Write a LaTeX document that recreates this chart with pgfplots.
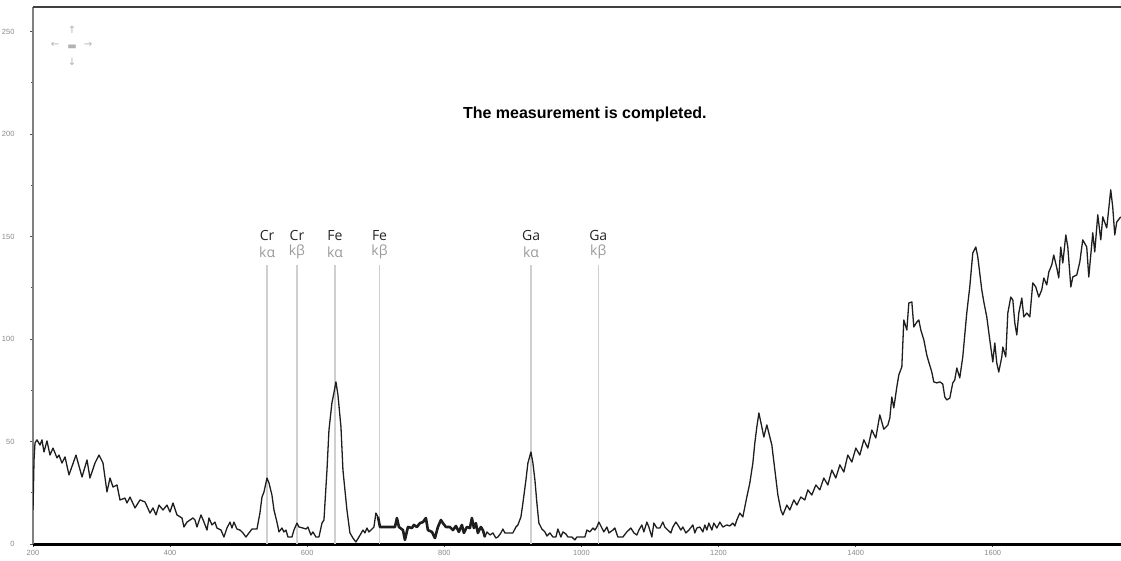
\documentclass[border=0pt]{standalone}
\usepackage{fontspec}
\setmainfont{Liberation Sans}
\newfontfamily\labfont{Open Sans}
\newfontfamily\symfont{DejaVu Sans}
\usepackage{pgfplots}
\pgfplotsset{compat=1.18}
\definecolor{curve}{HTML}{1E1E1E}
\definecolor{peakline}{HTML}{CFCFCF}
\definecolor{ticklab}{HTML}{8A8A8A}
\definecolor{ktext}{HTML}{9A9A9A}
\tikzset{
  el/.style={font=\labfont\fontsize{14}{14}\selectfont, text=black!85, inner sep=0pt},
  kl/.style={font=\labfont\fontsize{14}{14}\selectfont, text=ktext, inner sep=0pt},
  ic/.style={font=\symfont\fontsize{10}{10}\selectfont, text=gray!60, inner sep=0pt},
}
\begin{document}
\begin{tikzpicture}
\begin{axis}[
  scale only axis,
  width=1088pt, height=537pt,
  xmin=200, xmax=1787, ymin=0, ymax=262,
  axis lines=left,
  axis line style={-},
  x axis line style={line width=3pt, black},
  y axis line style={line width=1.3pt, gray},
  xtick={200,400,...,1600},
  ytick={0,50,...,250},
  minor x tick num=3,
  minor y tick num=1,
  tick align=outside,
  major tick length=3pt,
  minor tick length=2pt,
  tick style={line width=0.8pt, black!70},
  tick label style={font=\fontsize{7.5}{8}\selectfont, text=ticklab},
  yticklabel style={xshift=-12pt},
  /pgf/number format/assume math mode=true,
  /pgf/number format/1000 sep={},
  clip=true,
]
% peak marker lines
\addplot[peakline, line width=1.5pt, forget plot] coordinates {(541.5,0) (541.5,136)};
\addplot[peakline, line width=1.5pt, forget plot] coordinates {(585,0) (585,136)};
\addplot[peakline, line width=1.5pt, forget plot] coordinates {(640.5,0) (640.5,136)};
\addplot[peakline, line width=1.5pt, forget plot] coordinates {(705.5,0) (705.5,136)};
\addplot[peakline, line width=1.5pt, forget plot] coordinates {(926.5,0) (926.5,136)};
\addplot[peakline, line width=1.5pt, forget plot] coordinates {(1024.5,0) (1024.5,136)};

% spectrum
\addplot[curve, line width=1.3pt, line join=round] coordinates {
(200,16.6) (201.5,41.0) (202.9,49.3) (205.8,50.8) (210.2,48.3) (213.1,50.8) (216.0,44.9)
(220.4,50.3) (224.8,43.4) (229.2,46.8) (235.0,42.0) (237.9,43.4) (242.3,39.5) (246.7,42.5)
(252.5,33.7) (262.7,43.4) (271.5,32.7) (278.8,41.0) (283.1,32.2) (290.4,39.5) (296.3,43.4)
(302.1,39.5) (307.9,25.4) (312.3,32.2) (316.7,27.8) (322.5,28.8) (326.9,21.5) (334.2,22.4)
(337.1,20.0) (341.5,22.9) (348.8,17.6) (356.1,21.5) (363.4,20.5) (370.7,15.1) (375.0,17.6)
(379.4,14.2) (383.8,19.0) (389.6,16.6) (395.4,19.0) (399.8,15.6) (404.2,20.0) (410.0,14.2)
(417.3,12.7) (420.2,8.3) (424.6,10.7) (429.0,11.7)
(433.3,12.7) (436.3,11.7) (439.2,8.3) (445.0,14.2) (449.4,10.7) (453.8,6.8) (456.7,12.7)
(461.1,9.3) (465.4,10.7) (468.3,7.8) (474.2,6.8) (478.5,3.4) (482.9,7.8) (487.3,10.7)
(490.2,7.8) (493.1,10.7) (497.5,7.3) (501.9,6.8) (506.2,5.4) (510.6,3.4) (515.0,5.4)
(519.4,7.3) (526.7,7.3) (531.0,15.1) (534.0,22.9) (536.9,25.4) (541.3,32.2) (544.2,29.8)
(548.5,23.9) (551.5,16.6) (555.8,10.7) (558.8,5.9) (563.1,7.8) (566.0,5.9) (569.0,6.8)
(571.9,3.4) (577.7,3.4) (580.6,6.8) (585.0,10.2) (587.9,8.3) (593.8,7.8) (598.1,7.3)
(601.0,8.3) (605.4,4.4) (608.3,5.9) (612.7,3.4) (617.1,3.4) (621.5,10.2) (624.4,11.7)
(628.8,36.1) (631.7,55.6) (636.0,68.8) (638.9,73.7) (641.9,79.1) (644.8,72.7) (649.2,57.1)
(652.1,36.1) (657.9,16.6) (662.3,5.4) (666.7,2.9) (671.0,1.0) (675.4,3.4) (681.3,6.8)
(684.2,5.4) (687.1,7.8) (690.0,5.9) (694.4,7.3) (697.3,8.3) (700.2,15.1) (703.2,13.2)
(706.1,8.3) (728.0,8.3) (730.8,12.7) (733.8,8.3) (739.6,6.8) (742.5,2.0) (746.9,8.3)
(752.7,7.8) (755.6,9.3) (760.0,8.3) (764.4,10.2) (768.8,10.7) (773.1,12.7) (776.0,6.8)
(781.9,5.9) (786.3,2.9) (790.6,8.3) (795.0,11.7) (797.9,10.2) (802.3,8.3) (808.1,8.3)
(812.5,6.8) (816.9,8.8) (821.2,5.9) (825.6,9.3) (828.5,5.4) (832.9,8.3) (837.3,7.8)
(840.2,12.7) (843.1,7.8) (846.0,10.2) (848.9,5.4) (853.3,8.3) (856.2,6.8) (859.2,3.4)
(862.1,5.9) (866.5,4.4) (870.8,5.4) (875.2,2.9) (878.1,3.4) (882.5,5.4) (885.4,7.3)
(888.3,5.4) (900.0,5.4) (904.4,8.3) (907.3,9.3) (911.7,13.2) (914.6,20.0) (919.0,31.2)
(921.9,39.5) (926.3,44.9) (929.2,39.5) (932.1,31.2) (935.0,20.0) (937.9,10.2) (942.3,7.3)
(946.7,5.9) (949.6,3.9) (954.0,5.4) (958.4,3.4) (962.7,3.4) (965.6,7.3) (970.0,3.4)
(972.9,5.9) (977.3,4.9) (980.2,3.4) (986.0,3.4) (990.4,2.0) (993.3,3.4) (1005.0,3.4)
(1007.9,6.8) (1012.3,5.9) (1016.7,7.8) (1019.6,6.8) (1022.5,8.3) (1025.4,10.7) (1029.8,7.8)
(1032.7,5.9) (1037.1,8.3) (1040.0,5.4) (1045.8,6.8) (1048.7,7.8) (1053.1,3.4)
(1060.4,3.4) (1066.2,5.9) (1072.1,7.8) (1076.5,5.4) (1080.8,4.4) (1083.8,6.8) (1088.1,9.3)
(1091.0,5.9) (1095.4,10.7) (1098.3,8.3) (1102.7,3.4) (1105.6,10.2) (1110.0,7.8) (1114.4,7.8)
(1118.7,10.7) (1121.6,8.3) (1126.0,6.8) (1130.4,5.4) (1133.3,8.3) (1137.7,10.7) (1140.6,9.3)
(1145.0,6.8) (1147.9,8.3) (1152.3,5.4) (1156.7,6.8) (1162.5,9.3) (1165.4,5.4) (1168.3,7.8)
(1172.7,8.3) (1177.1,5.9) (1180.0,9.3) (1182.9,6.8) (1185.8,10.2) (1190.2,6.8) (1193.1,10.2)
(1197.5,7.8) (1201.9,10.7) (1206.2,8.3) (1212.1,9.3) (1216.4,8.8) (1220.8,10.2) (1223.7,8.8)
(1226.6,11.7) (1231.0,15.1) (1235.4,13.2) (1238.3,18.1) (1241.2,22.9) (1245.6,29.8)
(1250.0,39.5) (1252.9,49.3) (1255.8,57.1) (1258.8,63.9) (1263.1,57.1) (1266.0,52.2)
(1270.4,58.1) (1273.3,54.2) (1277.7,48.3) (1282.1,36.1) (1286.5,23.9) (1290.8,16.6)
(1293.8,14.2) (1299.6,19.0) (1303.9,16.6) (1309.8,21.5) (1314.2,19.0) (1320.0,22.9)
(1325.8,21.5) (1330.2,26.4) (1336.0,23.9) (1341.9,28.8) (1347.7,26.4) (1353.5,32.2)
(1359.4,28.8) (1365.2,36.1) (1371.0,32.2) (1376.9,38.6) (1382.7,35.1) (1388.5,43.4)
(1394.4,40.0) (1400.2,46.8) (1406.0,43.4) (1411.9,50.8) (1417.7,46.8) (1423.5,55.6)
(1429.3,51.7) (1435.2,63.0) (1441.0,56.0) (1446.9,58.0)
(1449.8,61.5) (1452.7,71.7) (1455.6,66.4) (1460.0,76.6) (1462.9,82.5) (1467.3,86.4)
(1470.2,109.3) (1474.6,104.4) (1477.5,117.6) (1481.9,118.1) (1484.8,105.9) (1489.2,108.3)
(1492.1,109.3) (1495.0,104.4) (1499.4,99.6) (1503.7,92.2) (1506.6,88.8) (1511.0,83.9)
(1513.9,79.1) (1518.3,78.6) (1522.7,79.1) (1527.0,78.1) (1530.0,71.7) (1532.9,70.3)
(1537.3,71.2) (1541.6,78.6) (1544.5,80.0) (1547.5,85.9) (1551.8,81.0) (1556.2,91.3)
(1562.0,112.7) (1566.4,125.4) (1570.8,142.0) (1575.2,144.9) (1578.1,140.1) (1583.9,124.0)
(1586.9,118.1) (1591.2,110.8) (1595.6,99.6) (1600.0,88.8) (1602.9,98.1) (1605.8,88.3)
(1608.7,83.9) (1613.1,91.3) (1614.6,96.1) (1618.9,91.3) (1621.9,112.7) (1626.2,120.5)
(1629.2,119.1) (1632.1,107.8) (1635.0,102.0) (1637.9,112.7) (1642.3,120.0) (1645.2,110.8)
(1649.6,112.7) (1654.0,110.8) (1658.3,127.4) (1662.7,125.4) (1667.1,120.5) (1671.4,124.0)
(1674.4,129.8) (1678.7,126.4) (1681.7,132.7) (1686.0,136.2) (1688.9,141.0) (1693.3,134.7)
(1696.2,129.8) (1699.1,144.9) (1702.1,137.1) (1706.5,150.8) (1709.4,144.9) (1713.8,125.4)
(1716.7,130.3) (1722.5,131.3) (1726.9,137.6) (1731.2,148.4) (1737.0,144.9) (1740.0,130.3)
(1745.8,151.8) (1748.7,142.5) (1753.1,160.6) (1757.5,148.4) (1760.4,159.6) (1766.2,154.2)
(1772.0,172.8) (1774.9,164.5) (1777.9,150.8) (1780.8,157.1) (1786.6,159.6)
};
% bold overlay section
\addplot[curve, line width=2.6pt, line join=round] coordinates {
(703.2,13.2) (706.1,8.3) (728.0,8.3) (730.8,12.7) (733.8,8.3) (739.6,6.8) (742.5,2.0) (746.9,8.3)
(752.7,7.8) (755.6,9.3) (760.0,8.3) (764.4,10.2) (768.8,10.7) (773.1,12.7) (776.0,6.8)
(781.9,5.9) (786.3,2.9) (790.6,8.3) (795.0,11.7) (797.9,10.2) (802.3,8.3) (808.1,8.3)
(812.5,6.8) (816.9,8.8) (821.2,5.9) (825.6,9.3) (828.5,5.4) (832.9,8.3) (837.3,7.8)
(840.2,12.7) (843.1,7.8) (846.0,10.2) (848.9,5.4) (853.3,8.3) (856.2,6.8) (859.2,3.4)
};

% element labels
\node[el] at (axis cs:541.5,150.3) {Cr};
\node[kl] at (axis cs:541.5,142.5) {kα};
\node[el] at (axis cs:585,150.3) {Cr};
\node[kl] at (axis cs:585,142.5) {kβ};
\node[el] at (axis cs:640.5,150.3) {Fe};
\node[kl] at (axis cs:640.5,142.5) {kα};
\node[el] at (axis cs:705.5,150.3) {Fe};
\node[kl] at (axis cs:705.5,142.5) {kβ};
\node[el] at (axis cs:926.5,150.3) {Ga};
\node[kl] at (axis cs:926.5,142.5) {kα};
\node[el] at (axis cs:1024.5,150.3) {Ga};
\node[kl] at (axis cs:1024.5,142.5) {kβ};

\node[font=\bfseries\fontsize{16}{16}\selectfont, inner sep=0pt] at (axis cs:1005,209.4) {The measurement is completed.};

% pan control icon
\node[ic] at (axis cs:256.9,250.8) {↑};
\node[ic] at (axis cs:232.1,243.5) {←};
\node[ic] at (axis cs:280.2,243.5) {→};
\node[ic] at (axis cs:256.9,242.5) {▬};
\node[ic] at (axis cs:256.9,235.2) {↓};
\end{axis}
\draw[line width=1.3pt, black!75] (current axis.north west) -- (current axis.north east);
\pgfresetboundingbox
\path ([shift={(-33pt,-16pt)}]current axis.south west) rectangle ([shift={(0pt,7pt)}]current axis.north east);
\end{tikzpicture}
\end{document}
